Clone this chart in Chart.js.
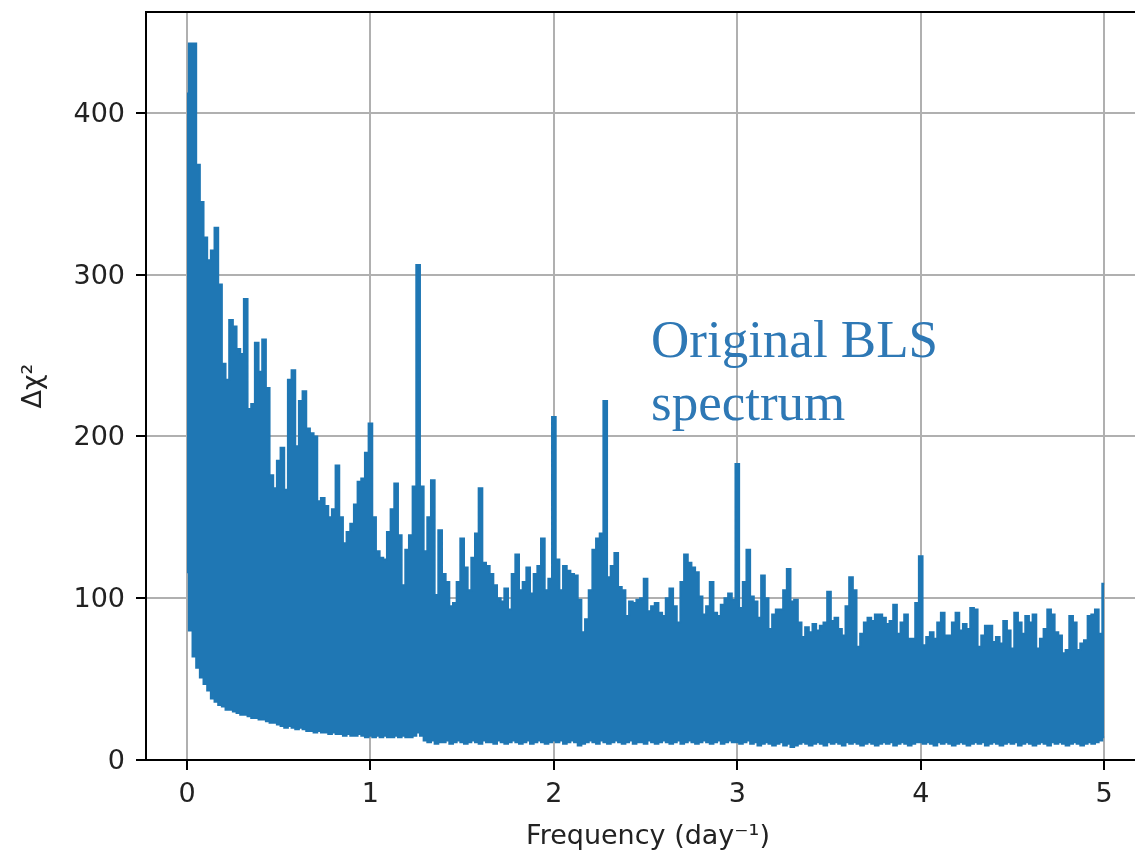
<!DOCTYPE html>
<html>
<head>
<meta charset="utf-8">
<script src="https://cdn.jsdelivr.net/npm/chart.js@4.4.1/dist/chart.umd.min.js"></script>
<style>
    body { margin: 0; background: #fff; overflow: hidden; }
    #wrap { position: relative; width: 1135px; height: 854px; overflow: hidden; }
    #note {
        position: absolute; left: 651px; top: 308px;
        font-family: "Liberation Serif", "Times New Roman", serif;
        font-size: 53px; line-height: 63px; color: #2e78b5;
        white-space: nowrap;
    }
</style>
</head>
<body>
<div id="wrap">
    <!-- axes box runs a little past the right edge, like the cropped figure -->
    <canvas id="myChart" width="1150" height="854"></canvas>
    <div id="note">Original BLS<br>spectrum</div>
</div>
<script>
// BLS spectrum, sampled every 0.02 day^-1 from 0 to 5
const freqStart = 0;
const freqStep = 0.02;

// top of the spectrum (rows of 10, first freq of row in comment)
const upperChi2 = [
    412, 443, 443, 368, 345, 323, 309, 315, 329, 294, // 0.00
    245, 235, 272, 268, 254, 251, 285, 217, 220, 258, // 0.20
    240, 260, 230, 176, 168, 185, 193, 167, 235, 241, // 0.40
    194, 222, 228, 205, 202, 200, 160, 162, 157, 150, // 0.60
    155, 182, 150, 134, 141, 146, 158, 172, 174, 190, // 0.80
    208, 150, 129, 125, 124, 141, 155, 171, 139, 108, // 1.00
    130, 139, 169, 306, 169, 129, 150, 173, 102, 142, // 1.20
    115, 110, 95, 97, 110, 137, 119, 105, 125, 140,   // 1.40
    168, 122, 120, 115, 108, 100, 98, 106, 93, 115,   // 1.60
    127, 105, 110, 119, 103, 115, 120, 137, 105, 112, // 1.80
    212, 124, 105, 120, 117, 115, 114, 99, 79, 87,    // 2.00
    105, 130, 137, 140, 222, 113, 120, 128, 107, 105, // 2.20
    89, 98, 97, 99, 100, 112, 92, 95, 97, 91,         // 2.40
    89, 100, 106, 95, 85, 110, 127, 122, 119, 116,    // 2.60
    101, 90, 95, 110, 91, 89, 96, 100, 103, 99,       // 2.80
    183, 94, 110, 130, 101, 98, 88, 114, 100, 81,     // 3.00
    90, 93, 93, 105, 118, 98, 99, 85, 76, 82,         // 3.20
    79, 84, 80, 83, 85, 104, 86, 88, 81, 77,          // 3.40
    95, 113, 105, 70, 78, 85, 88, 86, 90, 90,         // 3.60
    88, 84, 86, 96, 78, 85, 90, 75, 75, 97,           // 3.80
    126, 71, 76, 79, 75, 85, 91, 77, 77, 85,          // 4.00
    91, 80, 84, 81, 94, 93, 70, 77, 83, 83,           // 4.20
    73, 76, 72, 86, 80, 69, 91, 85, 78, 89,           // 4.40
    85, 90, 69, 75, 81, 93, 90, 79, 77, 66,           // 4.60
    68, 89, 85, 68, 72, 74, 89, 90, 93, 78,           // 4.80
    109                                               // 5.00
];

// bottom of the spectrum
const lowerChi2 = [
    116, 80, 64, 57, 51, 47, 43, 38, 36, 34,  // 0.00
    33, 31, 31, 30, 29, 28, 28, 27, 26, 26,   // 0.20
    25, 25, 24, 23, 23, 22, 21, 20, 21, 20,   // 0.40
    19, 20, 19, 18, 18, 17, 18, 17, 17, 16,   // 0.60
    17, 16, 16, 15, 16, 15, 15, 16, 15, 14,   // 0.80
    15, 14, 15, 14, 15, 14, 14, 15, 14, 15,   // 1.00
    14, 14, 15, 17, 15, 12, 11, 12, 10, 11,   // 1.20
    11, 12, 10, 11, 12, 11, 10, 11, 12, 11,   // 1.40
    10, 12, 11, 11, 10, 12, 11, 10, 11, 12,   // 1.60
    11, 10, 11, 12, 10, 11, 12, 11, 10, 11,   // 1.80
    12, 11, 12, 10, 11, 12, 11, 9, 10, 11,    // 2.00
    12, 11, 10, 12, 11, 10, 11, 12, 11, 10,   // 2.20
    11, 12, 10, 11, 11, 10, 12, 11, 10, 11,   // 2.40
    12, 11, 10, 11, 12, 10, 11, 12, 11, 10,   // 2.60
    11, 12, 11, 10, 11, 12, 10, 11, 12, 11,   // 2.80
    11, 10, 11, 12, 10, 11, 9, 10, 11, 10,    // 3.00
    9, 10, 11, 9, 10, 8, 9, 10, 11, 10,       // 3.20
    9, 10, 11, 10, 9, 11, 10, 11, 10, 9,      // 3.40
    11, 10, 11, 10, 9, 10, 11, 10, 9, 10,     // 3.60
    11, 10, 11, 9, 10, 11, 10, 9, 10, 11,     // 3.80
    11, 10, 11, 10, 9, 11, 10, 11, 10, 9,     // 4.00
    10, 11, 10, 9, 10, 11, 10, 11, 9, 10,     // 4.20
    11, 10, 9, 10, 11, 10, 11, 9, 10, 11,     // 4.40
    10, 9, 10, 11, 10, 9, 11, 10, 11, 10,     // 4.60
    9, 10, 11, 10, 9, 10, 11, 10, 11, 12,     // 4.80
    14                                        // 5.00
];

const xTicks = [0, 1, 2, 3, 4, 5];
const yTicks = [0, 100, 200, 300, 400];
const xLabel = 'Frequency (day\u207B\u00B9)';
const yLabel = '\u0394\u03C7\u00B2';

const lineColor = '#1f77b4';
const fontFamily = "'DejaVu Sans', sans-serif";

const upperPts = upperChi2.map((v, i) => ({ x: freqStart + i * freqStep, y: v }));
const lowerPts = lowerChi2.map((v, i) => ({ x: freqStart + i * freqStep, y: v }));

// matplotlib style top and right spines
const boxSpines = {
    id: 'boxSpines',
    afterDraw(chart) {
        const { ctx, chartArea } = chart;
        ctx.save();
        ctx.strokeStyle = '#000';
        ctx.lineWidth = 2;
        ctx.beginPath();
        ctx.moveTo(chartArea.left - 1, chartArea.top);
        ctx.lineTo(chartArea.right, chartArea.top);
        ctx.lineTo(chartArea.right, chartArea.bottom);
        ctx.stroke();
        ctx.restore();
    }
};

let ctx = document.getElementById('myChart');
new Chart(ctx, {
    type: 'line',
    data: {
        datasets: [{
            label: 'upper',
            data: upperPts,
            borderColor: lineColor,
            backgroundColor: lineColor,
            borderWidth: 2,
            pointRadius: 0,
            stepped: 'middle',
            fill: '+1'
        },
        {
            label: 'lower',
            data: lowerPts,
            borderColor: lineColor,
            backgroundColor: lineColor,
            borderWidth: 2,
            pointRadius: 0,
            stepped: 'middle',
            fill: false
        }]
    },
    options: {
        responsive: false,
        animation: false,
        events: [],
        layout: { padding: { top: 12, right: 0, left: 0, bottom: 0 } },
        plugins: {
            legend: { display: false },
            tooltip: { enabled: false }
        },
        scales: {
            x: {
                type: 'linear',
                min: -0.2236,
                max: 5.25,
                afterBuildTicks: (scale) => { scale.ticks = xTicks.map(v => ({ value: v })); },
                afterFit: (scale) => {
                    scale.height = 94;
                    scale.paddingLeft = 0; scale.paddingRight = 0;
                    scale.paddingTop = 0; scale.paddingBottom = 0;
                },
                grid: { color: '#b0b0b0', lineWidth: 2, tickColor: '#000', tickLength: 10, tickWidth: 2 },
                border: { color: '#000', width: 2 },
                ticks: { color: '#222', font: { family: fontFamily, size: 27 }, padding: 9, maxRotation: 0 },
                title: { display: true, text: xLabel, color: '#222', font: { family: fontFamily, size: 27 }, padding: { top: 0, bottom: 1 } }
            },
            y: {
                min: 0,
                max: 462.4,
                afterBuildTicks: (scale) => { scale.ticks = yTicks.map(v => ({ value: v })); },
                afterFit: (scale) => {
                    scale.width = 146;
                    scale.paddingLeft = 0; scale.paddingRight = 0;
                    scale.paddingTop = 0; scale.paddingBottom = 0;
                },
                grid: { color: '#b0b0b0', lineWidth: 2, tickColor: '#000', tickLength: 10, tickWidth: 2 },
                border: { color: '#000', width: 2 },
                ticks: { color: '#222', font: { family: fontFamily, size: 27 }, padding: 11, labelOffset: 2 },
                title: { display: true, text: yLabel, color: '#222', font: { family: fontFamily, size: 27 }, padding: { top: 18, bottom: 0 } }
            }
        }
    },
    plugins: [boxSpines]
});
</script>
</body>
</html>
